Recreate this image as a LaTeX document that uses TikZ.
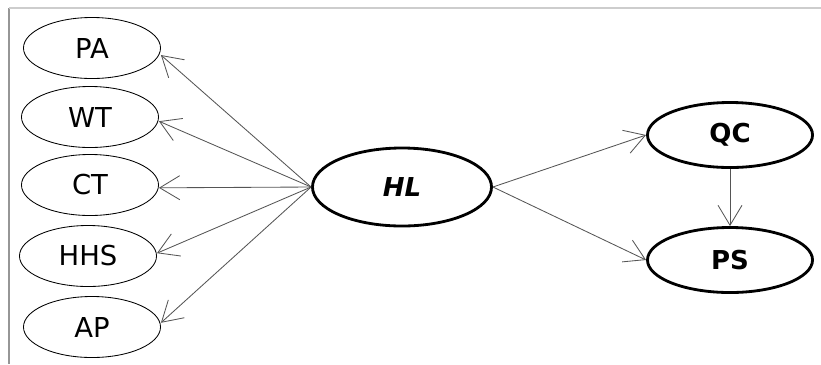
\documentclass[tikz,border=0pt]{standalone}
\usepackage{fontspec}
\setmainfont{DejaVu Sans}
\usepackage{xcolor}
\usepackage{tikz}
\usetikzlibrary{arrows.meta,shapes.geometric}
\definecolor{framegray}{RGB}{150,150,150}
\definecolor{framelight}{RGB}{205,205,205}
\definecolor{arrowgray}{RGB}{85,85,85}

\begin{document}
\begin{tikzpicture}[
  x=0.025cm, y=-0.025cm,
  font=\fontsize{19.5}{23}\selectfont,
  indicator/.style={draw, ellipse, line width=0.6pt, inner sep=0pt, minimum width=3.425cm, minimum height=1.525cm},
  latent/.style={draw, ellipse, line width=2pt, inner sep=0pt, minimum width=4.125cm, minimum height=1.625cm, font=\fontsize{18.5}{22}\selectfont\bfseries},
  arr/.style={-{Straight Barb[length=5mm,width=6mm]}, line width=0.6pt, draw=arrowgray}
]
\useasboundingbox (0,0) rectangle (821,364);
\draw[framegray, line width=0.8pt] (9,8) -- (9,364);
\draw[framelight, line width=0.8pt] (9,8) -- (821,8);
\node[indicator] (pa) at (92,48) {PA};
\node[indicator] (wt) at (90,117) {WT};
\node[indicator] (ct) at (90,185) {CT};
\node[indicator] (hhs) at (88,256) {HHS};
\node[indicator] (ap) at (92,327) {AP};
\node[latent, minimum width=4.475cm, minimum height=1.95cm, font=\fontsize{18.5}{22}\selectfont\bfseries\itshape] (hl) at (402,187) {HL};
\node[latent] (qc) at (730,135) {QC};
\node[latent] (ps) at (730,260) {PS};
\draw[arr] (hl.west) -- ([yshift=-5]pa.east);
\draw[arr] (hl.west) -- ([yshift=-3]wt.east);
\draw[arr] (hl.west) -- ([yshift=-2]ct.east);
\draw[arr] (hl.west) -- ([yshift=2]hhs.east);
\draw[arr] (hl.west) -- ([yshift=3]ap.east);
\draw[arr] (hl.east) -- (qc.west);
\draw[arr] (hl.east) -- (ps.west);
\draw[arr] (qc.south) -- (ps.north);
\end{tikzpicture}
\end{document}
